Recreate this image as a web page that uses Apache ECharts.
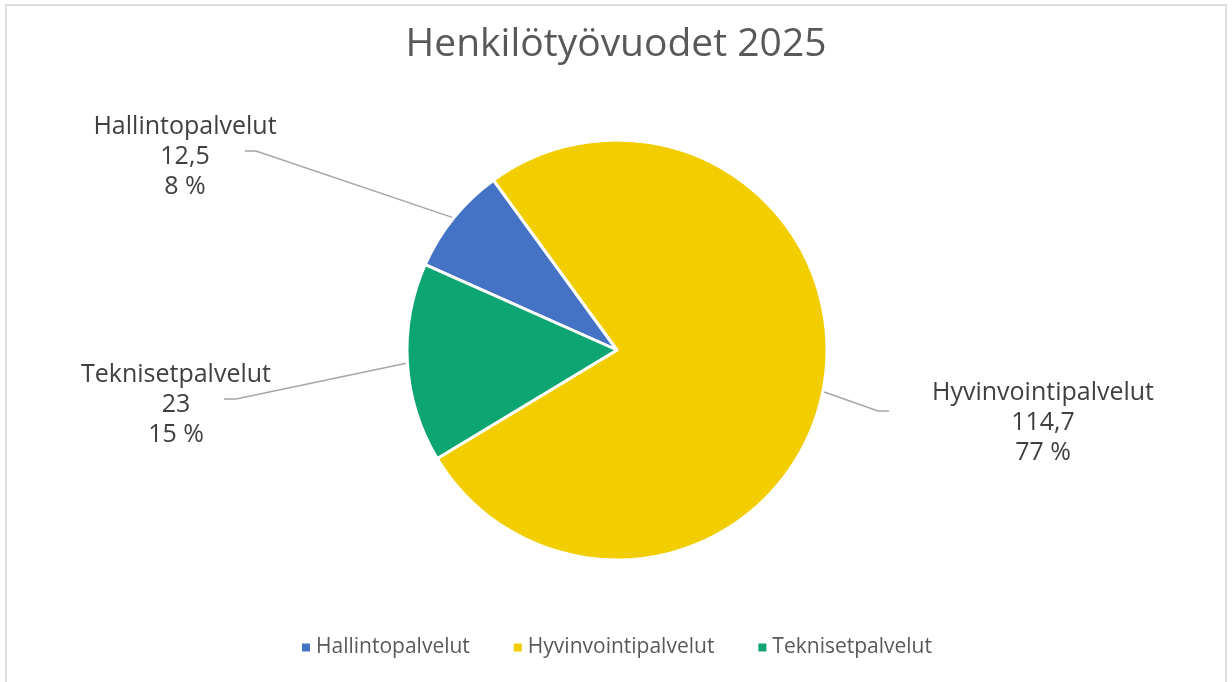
<!DOCTYPE html>
<html>
<head>
<meta charset="utf-8">
<title>Henkilötyövuodet 2025</title>
<script src="https://cdn.jsdelivr.net/npm/echarts@6/dist/echarts.min.js"></script>
<style>
  html, body { margin: 0; padding: 0; background: #fff; overflow: hidden; }
  #wrap { position: relative; width: 1232px; height: 682px; }
  #frame { position: absolute; left: 5px; top: 4px; width: 1222px; height: 700px; border: 2px solid #dedede; box-sizing: border-box; }
  #chart { position: absolute; left: 0; top: 0; width: 1232px; height: 682px; }
</style>
</head>
<body>
<div id="wrap">
  <div id="frame"></div>
  <div id="chart"></div>
</div>
<script>
// data
const categories = ['Hallintopalvelut', 'Hyvinvointipalvelut', 'Teknisetpalvelut']
const values = [12.5, 114.7, 23]
const colors = ['#4472C4', '#F2CE00', '#0DA672']

// where each data label sits and how its leader line bends (layout only)
const labelSpots = [
  { x: 185, y: 157, bend: [256, 151], end: [245, 151] },
  { x: 1043, y: 423, bend: [878, 411], end: [889, 411] },
  { x: 176, y: 405, bend: [236, 399], end: [224, 399] }
]

const font = '"Open Sans", Lato, sans-serif'

const myChart = echarts.init(document.getElementById('chart'))
const option = {
  animation: false,
  title: {
    text: 'Henkilötyövuodet 2025',
    left: 'center',
    top: 20,
    textStyle: { fontFamily: font, fontSize: 39, fontWeight: 'normal', color: '#595959' }
  },
  legend: {
    bottom: 19,
    left: 'center',
    icon: 'rect',
    itemWidth: 10,
    itemHeight: 10,
    itemGap: 42,
    textStyle: { fontFamily: font, fontSize: 21, color: '#595959' },
    data: categories
  },
  series: [
    {
      type: 'pie',
      center: [617, 350],
      radius: 210,
      startAngle: 156,
      clockwise: true,
      percentPrecision: 0,
      data: categories.map((name, i) => ({
        name: name,
        value: values[i],
        itemStyle: { color: colors[i] }
      })),
      itemStyle: { borderColor: '#fff', borderWidth: 3 },
      label: {
        show: true,
        position: 'outside',
        fontFamily: font,
        fontSize: 25,
        lineHeight: 30,
        color: '#404040',
        align: 'center',
        formatter: p => p.name + '\n' + String(p.value).replace('.', ',') + '\n' + p.percent + ' %'
      },
      labelLine: {
        show: true,
        lineStyle: { color: '#a6a6a6', width: 1.5 }
      },
      labelLayout: params => {
        const s = labelSpots[params.dataIndex]
        const start = params.labelLinePoints ? params.labelLinePoints[0] : s.bend
        return {
          x: s.x,
          y: s.y,
          align: 'center',
          verticalAlign: 'middle',
          labelLinePoints: [start, s.bend, s.end]
        }
      },
      emphasis: { disabled: true }
    }
  ]
}
myChart.setOption(option, true)
window.addEventListener('resize', () => { myChart.resize() })
</script>
</body>
</html>
